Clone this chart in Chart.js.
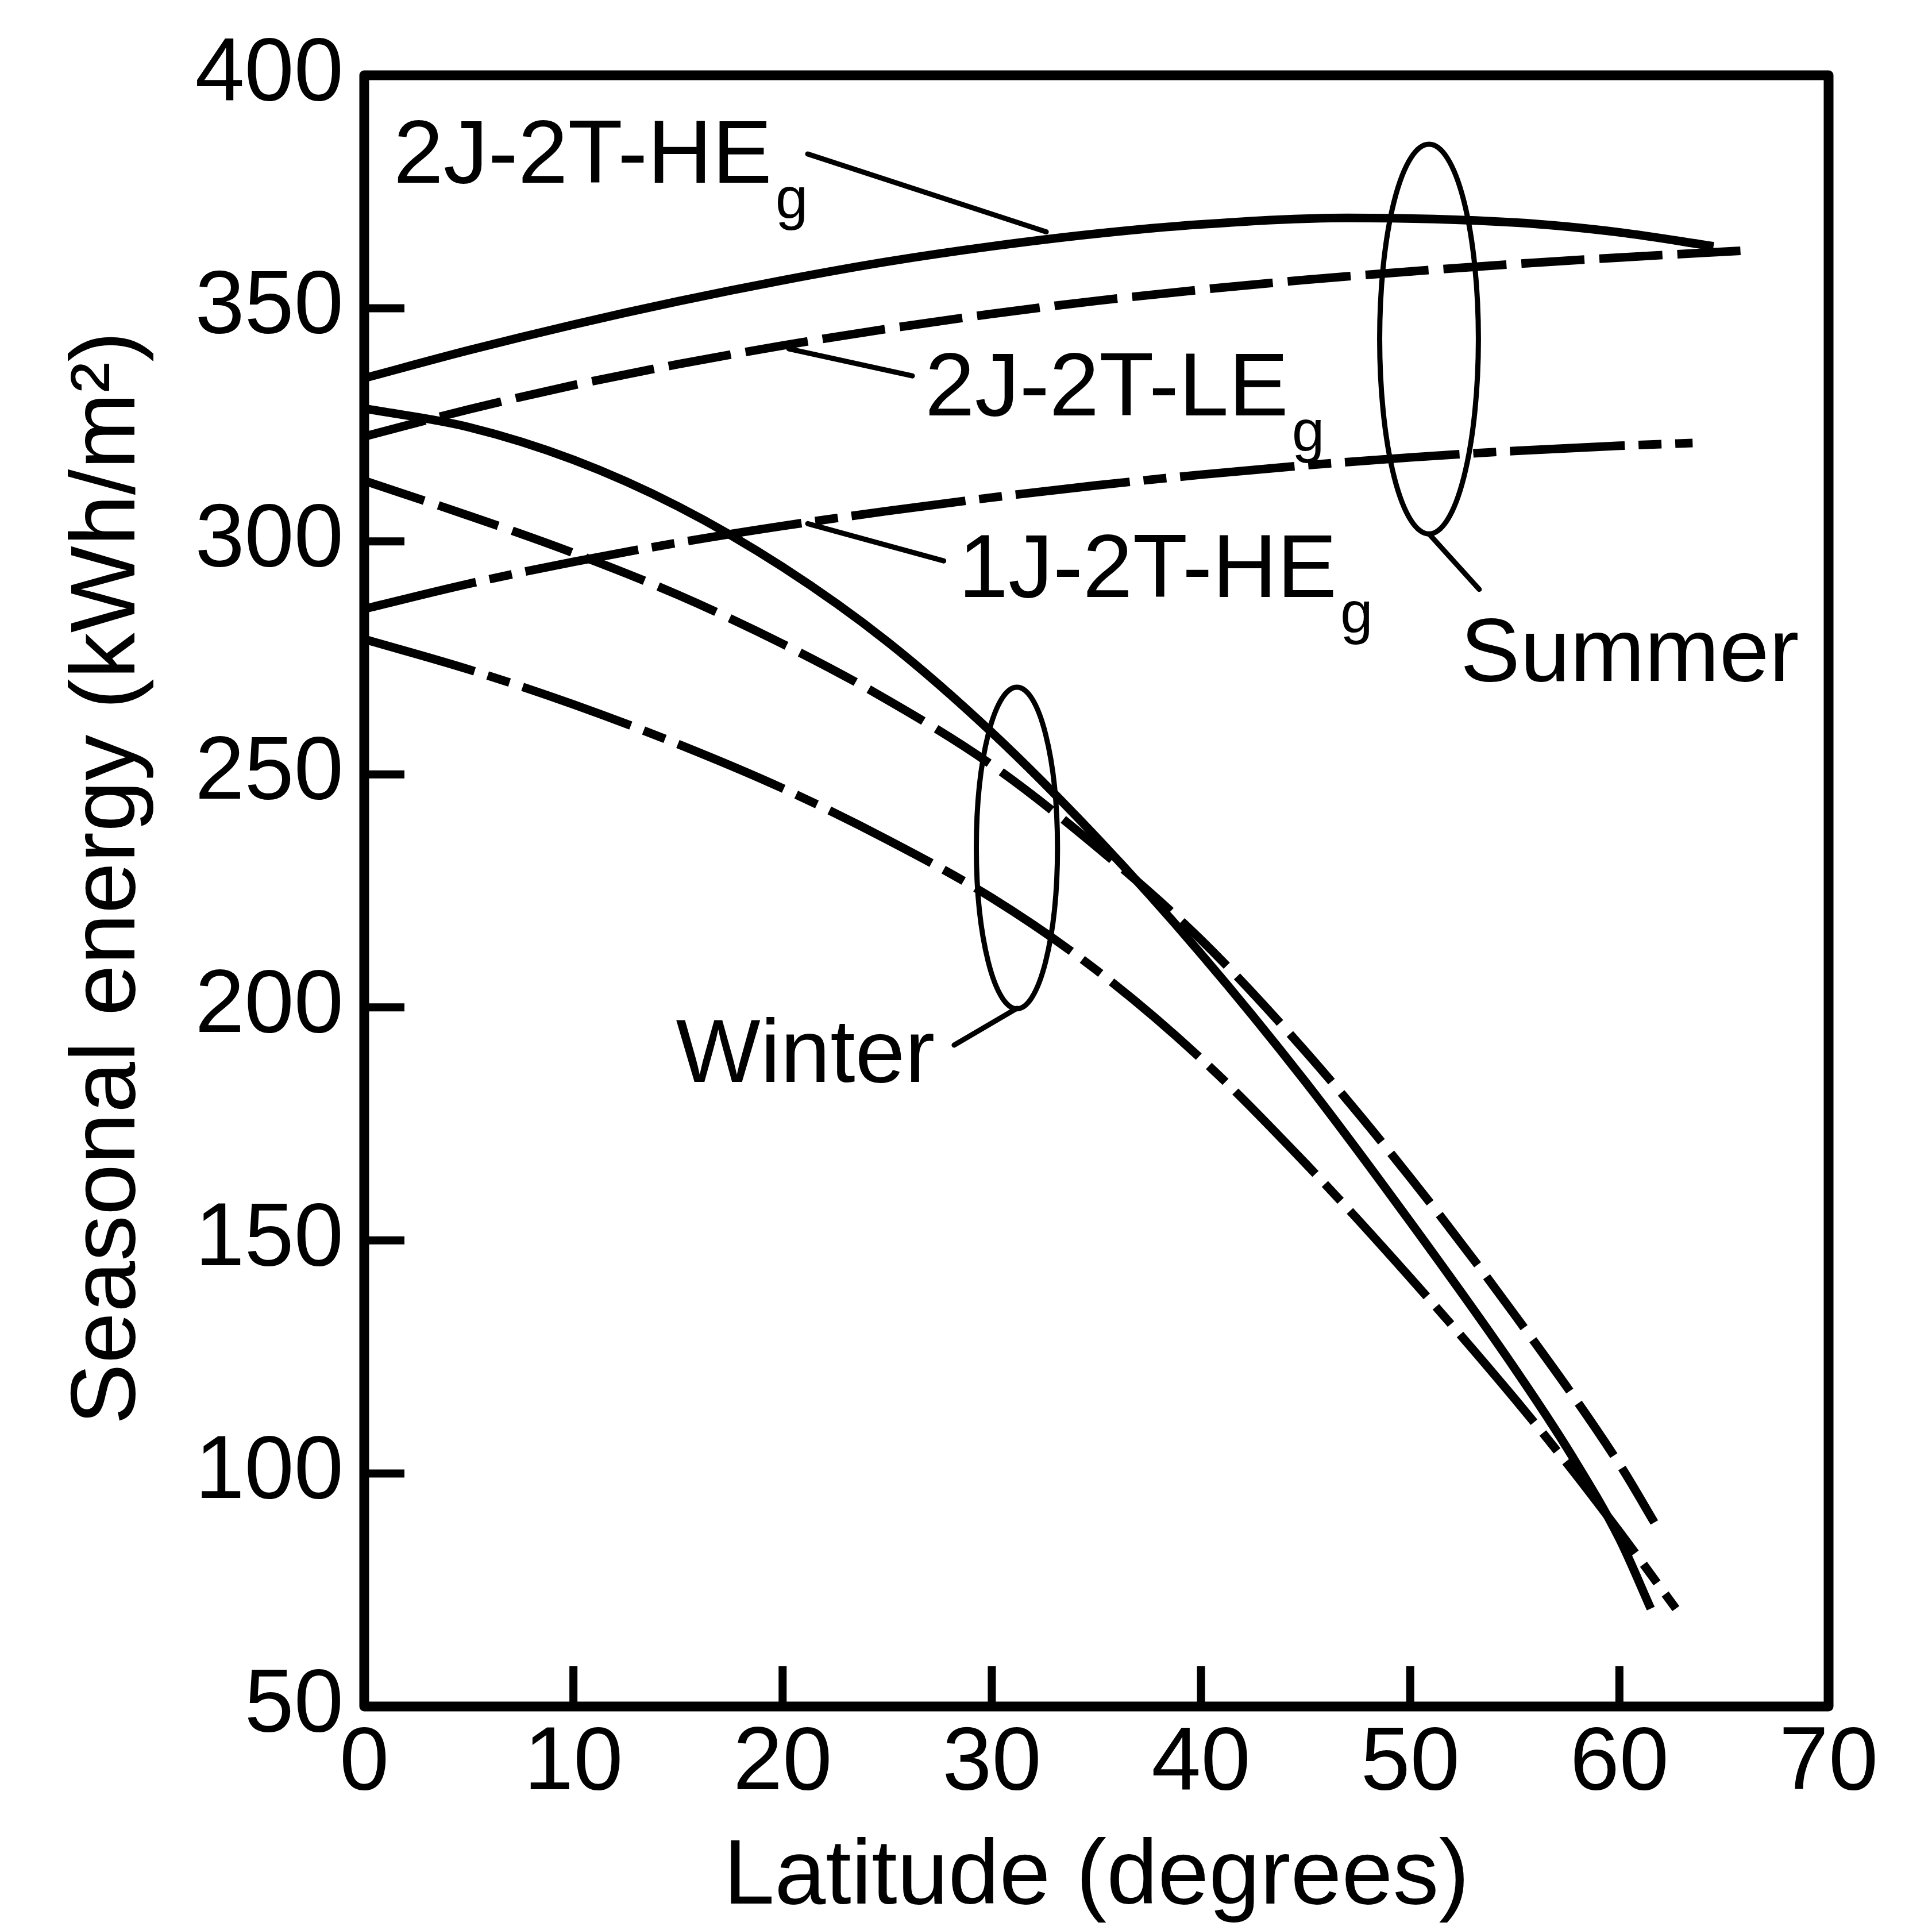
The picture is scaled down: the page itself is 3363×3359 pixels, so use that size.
<!DOCTYPE html>
<html>
<head>
<meta charset="utf-8">
<title>Seasonal energy vs latitude</title>
<script src="https://cdn.jsdelivr.net/npm/chart.js@4.4.1/dist/chart.umd.min.js"></script>
<style>
  html, body { margin: 0; padding: 0; background: #fff; }
  canvas { display: block; }
</style>
</head>
<body>
<canvas id="chart1" width="3363" height="3359"></canvas>
<script>
const FONT = "'Liberation Sans', Arial, Helvetica, sans-serif";

// summer, 2J-2T-HEg (solid)
const sumHeLat = [0, 5, 10, 15, 20, 25, 30, 35, 40, 47, 55, 60, 64.5];
const sumHeVal = [335, 341, 346.5, 351.5, 356, 360, 363.3, 366, 368, 369.4, 368.4, 366.3, 363.3];
// summer, 2J-2T-LEg (dashed)
const sumLeLat = [0, 5, 10, 15, 20, 25, 30, 35, 40, 45, 50, 55, 60, 66];
const sumLeVal = [322.5, 328.3, 333.5, 338, 342, 345.6, 348.8, 351.6, 354, 356.1, 357.9, 359.5, 360.9, 362.4];
// summer, 1J-2T-HEg (dash-dot)
const sum1jLat = [0, 5, 10, 15, 20, 25, 30, 35, 40, 45, 50, 55, 60, 63.5];
const sum1jVal = [285.5, 290.9, 295.6, 299.7, 303.3, 306.5, 309.4, 312, 314.3, 316.3, 318, 319.4, 320.5, 321.1];

// winter curves
const winHeLat = [0, 5, 10, 15, 20, 25, 30, 35, 40, 45, 50, 55, 57.7, 60, 61.5];
const winHeVal = [328.5, 324.5, 317.5, 307.5, 294.5, 278.5, 259, 236.5, 211.5, 184, 154, 122.5, 104, 86, 71];
const winLeLat = [0, 5, 10, 15, 20, 25, 30, 35, 40, 45, 50, 55, 60, 61.8];
const winLeVal = [313, 305.5, 297.5, 288.5, 278, 266, 252, 234.5, 214.5, 190.5, 163.5, 134, 102, 88.5];
const win1jLat = [0, 5, 10, 15, 20, 25, 30, 35, 40, 45, 50, 55, 57.7, 60, 62.7];
const win1jVal = [279, 272.5, 265, 256.5, 247, 236, 223.5, 208, 189, 166.5, 142, 116, 101, 87.5, 71];

const xTicks = [0, 10, 20, 30, 40, 50, 60, 70];
const yTicks = [50, 100, 150, 200, 250, 300, 350, 400];

// curve labels (data coords of the text baseline start)
const curveLabels = [
  {text: '2J-2T-HE', sub: 'g', x: 1.4, y: 377},
  {text: '2J-2T-LE', sub: 'g', x: 26.8, y: 327},
  {text: '1J-2T-HE', sub: 'g', x: 28.4, y: 288},
  {text: 'Summer', sub: '', x: 52.4, y: 270},
  {text: 'Winter', sub: '', x: 14.9, y: 184}
];
const leaderLines = [
  [21.2, 383.1, 32.6, 366.4],
  [20.3, 341.3, 26.2, 335.5],
  [21.2, 303.8, 27.7, 295.8],
  [50.9, 301.6, 53.3, 289.7],
  [31.2, 199.8, 28.2, 191.9]
];
const seasonRings = [
  {x: 50.9, y: 343.4, rx: 2.36, ry: 41.8},
  {x: 31.2, y: 234.2, rx: 1.94, ry: 34.5}
];

function pts(lat, val) {
  return lat.map((v, i) => ({x: v, y: val[i]}));
}

function curve(lat, val, dash) {
  return {
    data: pts(lat, val),
    borderColor: '#000',
    borderWidth: 15,
    borderDash: dash,
    borderCapStyle: 'butt',
    pointRadius: 0,
    fill: false,
    cubicInterpolationMode: 'monotone'
  };
}

const LONG_DASH = [110, 26];
const DASH_DOT = [200, 24, 40, 24];

const frameAndNotes = {
  id: 'frameAndNotes',
  afterDatasetsDraw(chart) {
    const ctx = chart.ctx;
    const a = chart.chartArea;
    const sx = chart.scales.x;
    const sy = chart.scales.y;
    ctx.save();
    ctx.strokeStyle = '#000';
    ctx.fillStyle = '#000';
    ctx.setLineDash([]);

    // box
    ctx.lineWidth = 17;
    ctx.lineJoin = 'round';
    ctx.strokeRect(a.left, a.top, a.right - a.left, a.bottom - a.top);

    // inward ticks on left and bottom
    ctx.lineWidth = 14;
    ctx.beginPath();
    sx.ticks.forEach(t => {
      const px = sx.getPixelForValue(t.value);
      ctx.moveTo(px, a.bottom);
      ctx.lineTo(px, a.bottom - 70);
    });
    sy.ticks.forEach(t => {
      const py = sy.getPixelForValue(t.value);
      ctx.moveTo(a.left, py);
      ctx.lineTo(a.left + 70, py);
    });
    ctx.stroke();

    // rings around summer / winter groups
    ctx.lineWidth = 9;
    seasonRings.forEach(r => {
      const cx = sx.getPixelForValue(r.x);
      const cy = sy.getPixelForValue(r.y);
      const rx = Math.abs(sx.getPixelForValue(r.x + r.rx) - cx);
      const ry = Math.abs(sy.getPixelForValue(r.y + r.ry) - cy);
      ctx.beginPath();
      ctx.ellipse(cx, cy, rx, ry, 0, 0, Math.PI * 2);
      ctx.stroke();
    });

    // leader lines
    ctx.lineWidth = 9;
    ctx.lineCap = 'round';
    leaderLines.forEach(l => {
      ctx.beginPath();
      ctx.moveTo(sx.getPixelForValue(l[0]), sy.getPixelForValue(l[1]));
      ctx.lineTo(sx.getPixelForValue(l[2]), sy.getPixelForValue(l[3]));
      ctx.stroke();
    });

    // labels with subscript g
    ctx.textBaseline = 'alphabetic';
    ctx.textAlign = 'left';
    curveLabels.forEach(l => {
      const px = sx.getPixelForValue(l.x);
      const py = sy.getPixelForValue(l.y);
      ctx.font = '156px ' + FONT;
      ctx.fillText(l.text, px, py);
      if (l.sub) {
        const w = ctx.measureText(l.text).width;
        ctx.font = '102px ' + FONT;
        ctx.fillText(l.sub, px + w + 6, py + 62);
      }
    });
    ctx.restore();
  }
};

Chart.defaults.font.family = FONT;
Chart.defaults.color = '#000';

let myChart = new Chart(document.getElementById('chart1').getContext('2d'), {
  type: 'line',
  data: {
    datasets: [
      curve(sumHeLat, sumHeVal, []),
      curve(sumLeLat, sumLeVal, LONG_DASH),
      curve(sum1jLat, sum1jVal, DASH_DOT),
      curve(winHeLat, winHeVal, []),
      curve(winLeLat, winLeVal, LONG_DASH),
      curve(win1jLat, win1jVal, DASH_DOT)
    ]
  },
  options: {
    responsive: false,
    devicePixelRatio: 1,
    animation: false,
    layout: {autoPadding: false, padding: {left: 0, top: 131, right: 180, bottom: 0}},
    plugins: {
      legend: {display: false},
      tooltip: {enabled: false}
    },
    scales: {
      x: {
        type: 'linear',
        min: 0,
        max: 70,
        afterBuildTicks: s => { s.ticks = xTicks.map(v => ({value: v})); },
        grid: {display: false, drawTicks: false},
        border: {display: false},
        ticks: {padding: 8, maxRotation: 0, autoSkip: false, font: {size: 155}},
        title: {
          display: true,
          text: 'Latitude (degrees)',
          font: {size: 160, lineHeight: 1},
          padding: {top: 0, bottom: 10}
        },
        afterFit: s => { s.height = 389; s.paddingLeft = 0; s.paddingRight = 0; }
      },
      y: {
        type: 'linear',
        min: 50,
        max: 400,
        afterBuildTicks: s => { s.ticks = yTicks.map(v => ({value: v})); },
        grid: {display: false, drawTicks: false},
        border: {display: false},
        ticks: {padding: 36, font: {size: 155}},
        title: {
          display: true,
          text: ' Seasonal energy (kWh/m²)',
          font: {size: 160, lineHeight: 1.2},
          padding: {top: 94, bottom: 0}
        },
        afterFit: s => { s.width = 634; s.paddingTop = 0; s.paddingBottom = 0; }
      }
    }
  },
  plugins: [frameAndNotes]
});
</script>
</body>
</html>
